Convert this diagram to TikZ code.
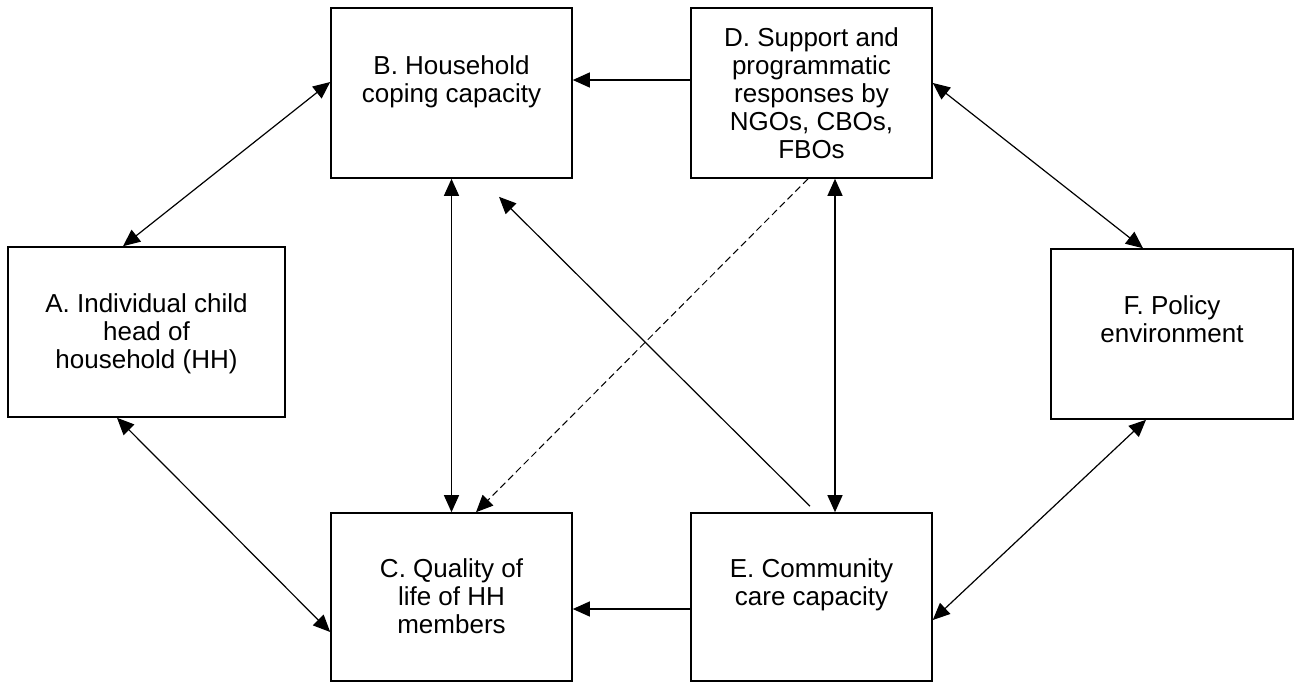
\documentclass[tikz,border=0pt]{standalone}
\usepackage{fontspec}
\setmainfont{Liberation Sans}
\usetikzlibrary{arrows.meta}
\begin{document}
\begin{tikzpicture}[x=1pt,y=-1pt,
  box/.style={draw, line width=1.6pt, minimum width=241pt, minimum height=170pt, inner sep=0pt},
  lbl/.style={anchor=north, align=center, inner sep=0pt, font=\fontsize{26}{28}\selectfont},
  tip/.style={Triangle[length=17pt,width=15pt]},
  link/.style={line width=1.2pt, -{Triangle[length=17pt,width=15pt]}},
  twoway/.style={line width=1.2pt, {Triangle[length=17pt,width=15pt]}-{Triangle[length=17pt,width=15pt]}},
  weak/.style={line width=1pt, dash pattern=on 7pt off 4pt, -{Triangle[length=17pt,width=15pt]}}]
\useasboundingbox (0,0) rectangle (1301,683);

% boxes
\node[box, minimum width=277pt] (A) at (146.5,332) {};
\node[box] (B) at (451.5,93) {};
\node[box, minimum height=168pt] (C) at (451.5,597) {};
\node[box] (D) at (811.5,93) {};
\node[box, minimum height=168pt] (E) at (811.5,597) {};
\node[box, minimum width=242pt] (F) at (1172,334) {};

% box texts
\node[lbl] (At) at ([yshift=-47pt]A.north) {A. Individual child\\head of\\household (HH)};
\node[lbl] (Bt) at ([yshift=-48pt]B.north) {B. Household\\coping capacity};
\node[lbl] (Ct) at ([yshift=-46pt]C.north) {C. Quality of\\life of HH\\members};
\node[lbl] (Dt) at ([yshift=-20pt]D.north) {D. Support and\\programmatic\\responses by\\NGOs, CBOs,\\FBOs};
\node[lbl] (Et) at ([yshift=-46pt]E.north) {E. Community\\care capacity};
\node[lbl] (Ft) at ([yshift=-47pt]F.north) {F. Policy\\environment};

% one-way links
\draw[link] ([yshift=13pt]D.west) -- ([yshift=13pt]B.east);
\draw[link] ([yshift=-12pt]E.west) -- ([yshift=-12pt]C.east);
\draw[link] ([xshift=-1.5pt,yshift=6pt]E.north) -- ([xshift=47.5pt,yshift=-18pt]B.south);
\draw[weak] ([xshift=-3.5pt]D.south) -- ([xshift=24.5pt]C.north);

% two-way links
\draw[twoway] ([xshift=-23.5pt]A.north) -- ([yshift=11pt]B.west);
\draw[twoway] ([xshift=-29.5pt]A.south) -- ([yshift=-35pt]C.west);
\draw[twoway] (B.south) -- (C.north);
\draw[twoway] ([xshift=23.5pt]D.south) -- ([xshift=23.5pt]E.north);
\draw[twoway] ([yshift=10pt]D.east) -- ([xshift=-29pt]F.north);
\draw[twoway] ([xshift=-26pt]F.south) -- ([yshift=-23pt]E.east);
\end{tikzpicture}
\end{document}
